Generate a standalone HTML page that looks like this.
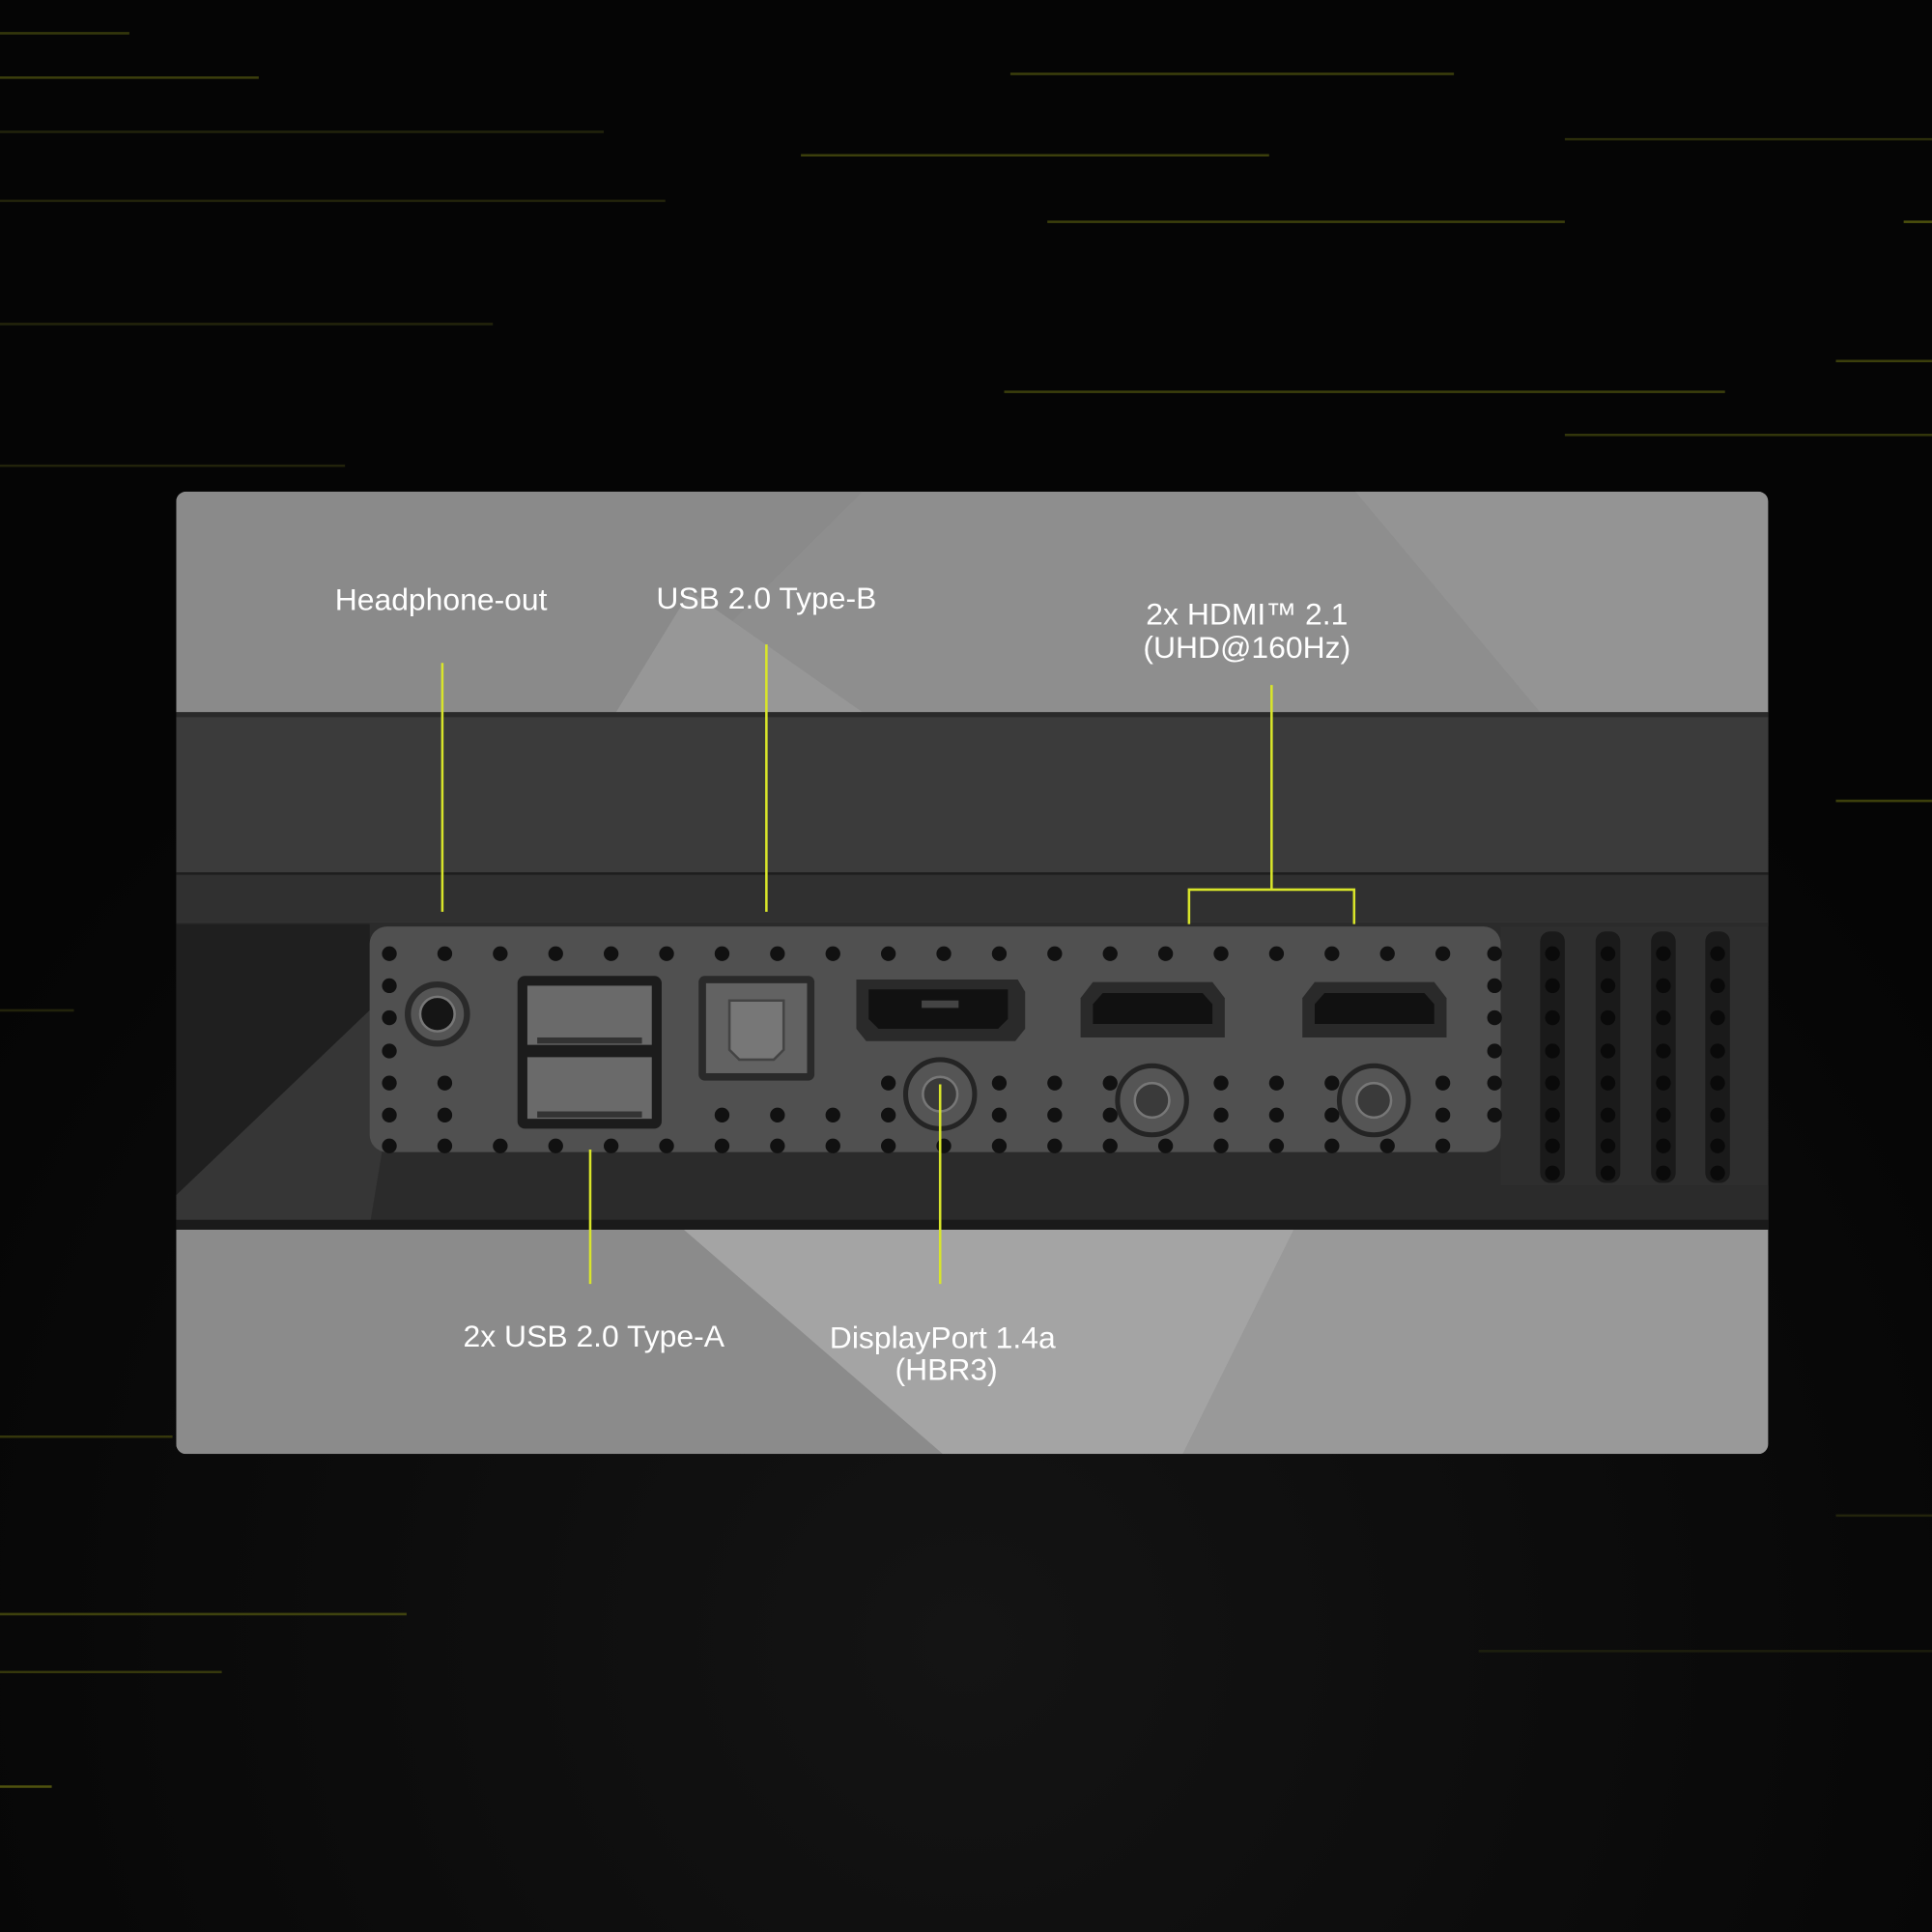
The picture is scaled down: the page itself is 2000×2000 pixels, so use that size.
<!DOCTYPE html>
<html><head><meta charset="utf-8"><style>
html,body{margin:0;padding:0;background:#000;width:2000px;height:2000px;overflow:hidden}
svg{display:block}
text{font-family:"Liberation Sans",sans-serif;fill:#fff;font-size:25px;text-anchor:middle}
</style></head><body>
<svg width="2000" height="2000" viewBox="0 0 1568 1568" xmlns="http://www.w3.org/2000/svg">
<defs>
<radialGradient id="bg" cx="0.5" cy="0.85" r="0.6"><stop offset="0" stop-color="#141414"/><stop offset="1" stop-color="#050505"/></radialGradient>
<clipPath id="pc"><rect x="143" y="399" width="1292" height="781" rx="8"/></clipPath>
</defs>
<rect width="1568" height="1568" fill="url(#bg)"/>
<g stroke-width="2" opacity="0.55">
<line x1="0" y1="27" x2="105" y2="27" stroke="#5a5e10"/>
<line x1="0" y1="63" x2="210" y2="63" stroke="#6a7012"/>
<line x1="820" y1="60" x2="1180" y2="60" stroke="#6a7012"/>
<line x1="0" y1="107" x2="490" y2="107" stroke="#3a3c10"/>
<line x1="650" y1="126" x2="1030" y2="126" stroke="#6a7012"/>
<line x1="1270" y1="113" x2="1568" y2="113" stroke="#4a4e10"/>
<line x1="0" y1="163" x2="540" y2="163" stroke="#3a3c10"/>
<line x1="850" y1="180" x2="1270" y2="180" stroke="#6a7012"/>
<line x1="1545" y1="180" x2="1568" y2="180" stroke="#8a9014"/>
<line x1="0" y1="263" x2="400" y2="263" stroke="#3a3c10"/>
<line x1="1490" y1="293" x2="1568" y2="293" stroke="#6a7012"/>
<line x1="815" y1="318" x2="1400" y2="318" stroke="#6a7012"/>
<line x1="1270" y1="353" x2="1568" y2="353" stroke="#5a5e10"/>
<line x1="0" y1="378" x2="280" y2="378" stroke="#3a3c10"/>
<line x1="1490" y1="650" x2="1568" y2="650" stroke="#6a7012"/>
<line x1="0" y1="820" x2="60" y2="820" stroke="#3a3c10"/>
<line x1="0" y1="1166" x2="140" y2="1166" stroke="#5a5e10"/>
<line x1="0" y1="1310" x2="330" y2="1310" stroke="#6a7012"/>
<line x1="0" y1="1357" x2="180" y2="1357" stroke="#5a5e10"/>
<line x1="0" y1="1450" x2="42" y2="1450" stroke="#8a9014"/>
<line x1="1200" y1="1340" x2="1568" y2="1340" stroke="#2a2c10"/>
<line x1="1490" y1="1230" x2="1568" y2="1230" stroke="#3a3c10"/>
</g>
<g clip-path="url(#pc)">
<rect x="143" y="399" width="1292" height="781" fill="#8e8e8e"/>
<polygon points="143,399 700,399 520,578 143,578" fill="#8a8a8a"/>
<polygon points="560,480 700,578 500,578" fill="#979797"/>
<polygon points="1100,399 1435,399 1435,578 1250,578" fill="#949494"/>
<polygon points="555,998 1050,998 960,1180 765,1180" fill="#a4a4a4"/>
<polygon points="1050,998 1435,998 1435,1180 960,1180" fill="#999"/>
<polygon points="143,998 555,998 765,1180 143,1180" fill="#8b8b8b"/>
<rect x="143" y="578" width="1292" height="132" fill="#3b3b3b"/>
<rect x="143" y="578" width="1292" height="4" fill="#2a2a2a"/>
<rect x="143" y="708" width="1292" height="40" fill="#303030"/>
<line x1="143" y1="709" x2="1435" y2="709" stroke="#1e1e1e" stroke-width="2"/>
<rect x="143" y="748" width="1292" height="250" fill="#2b2b2b"/>
<polygon points="143,750 300,750 300,820 143,970" fill="#1f1f1f"/>
<polygon points="143,970 300,820 310,935 300,995 143,995" fill="#363636"/>
<rect x="143" y="990" width="1292" height="8" fill="#1a1a1a"/>
<rect x="300" y="752" width="918" height="183" rx="14" fill="#505050"/>
<rect x="1218" y="752" width="217" height="210" fill="#2e2e2e"/>
<g fill="#1a1a1a">
<rect x="1250" y="756" width="20" height="204" rx="8"/>
<rect x="1295" y="756" width="20" height="204" rx="8"/>
<rect x="1340" y="756" width="20" height="204" rx="8"/>
<rect x="1384" y="756" width="20" height="204" rx="8"/>
</g>
<g fill="#111">
<circle cx="316" cy="774" r="6"/><circle cx="316" cy="800" r="6"/><circle cx="316" cy="826" r="6"/><circle cx="316" cy="853" r="6"/><circle cx="316" cy="879" r="6"/><circle cx="316" cy="905" r="6"/><circle cx="316" cy="930" r="6"/>
<circle cx="361" cy="774" r="6"/><circle cx="361" cy="879" r="6"/><circle cx="361" cy="905" r="6"/><circle cx="361" cy="930" r="6"/>
<circle cx="406" cy="774" r="6"/><circle cx="406" cy="930" r="6"/>
<circle cx="451" cy="774" r="6"/><circle cx="451" cy="930" r="6"/>
<circle cx="496" cy="774" r="6"/><circle cx="496" cy="930" r="6"/>
<circle cx="541" cy="774" r="6"/><circle cx="541" cy="930" r="6"/>
<circle cx="586" cy="774" r="6"/><circle cx="586" cy="905" r="6"/><circle cx="586" cy="930" r="6"/>
<circle cx="631" cy="774" r="6"/><circle cx="631" cy="905" r="6"/><circle cx="631" cy="930" r="6"/>
<circle cx="676" cy="774" r="6"/><circle cx="676" cy="905" r="6"/><circle cx="676" cy="930" r="6"/>
<circle cx="721" cy="774" r="6"/><circle cx="721" cy="879" r="6"/><circle cx="721" cy="905" r="6"/><circle cx="721" cy="930" r="6"/>
<circle cx="766" cy="774" r="6"/><circle cx="766" cy="930" r="6"/>
<circle cx="811" cy="774" r="6"/><circle cx="811" cy="879" r="6"/><circle cx="811" cy="905" r="6"/><circle cx="811" cy="930" r="6"/>
<circle cx="856" cy="774" r="6"/><circle cx="856" cy="879" r="6"/><circle cx="856" cy="905" r="6"/><circle cx="856" cy="930" r="6"/>
<circle cx="901" cy="774" r="6"/><circle cx="901" cy="879" r="6"/><circle cx="901" cy="905" r="6"/><circle cx="901" cy="930" r="6"/>
<circle cx="946" cy="774" r="6"/><circle cx="946" cy="930" r="6"/>
<circle cx="991" cy="774" r="6"/><circle cx="991" cy="879" r="6"/><circle cx="991" cy="905" r="6"/><circle cx="991" cy="930" r="6"/>
<circle cx="1036" cy="774" r="6"/><circle cx="1036" cy="879" r="6"/><circle cx="1036" cy="905" r="6"/><circle cx="1036" cy="930" r="6"/>
<circle cx="1081" cy="774" r="6"/><circle cx="1081" cy="879" r="6"/><circle cx="1081" cy="905" r="6"/><circle cx="1081" cy="930" r="6"/>
<circle cx="1126" cy="774" r="6"/><circle cx="1126" cy="930" r="6"/>
<circle cx="1171" cy="774" r="6"/><circle cx="1171" cy="879" r="6"/><circle cx="1171" cy="905" r="6"/><circle cx="1171" cy="930" r="6"/>
<circle cx="1213" cy="774" r="6"/><circle cx="1213" cy="800" r="6"/><circle cx="1213" cy="826" r="6"/><circle cx="1213" cy="853" r="6"/><circle cx="1213" cy="879" r="6"/><circle cx="1213" cy="905" r="6"/>
</g>
<g fill="#0a0a0a">
<circle cx="1260" cy="774" r="6"/><circle cx="1260" cy="800" r="6"/><circle cx="1260" cy="826" r="6"/><circle cx="1260" cy="853" r="6"/><circle cx="1260" cy="879" r="6"/><circle cx="1260" cy="905" r="6"/><circle cx="1260" cy="930" r="6"/><circle cx="1260" cy="952" r="6"/>
<circle cx="1305" cy="774" r="6"/><circle cx="1305" cy="800" r="6"/><circle cx="1305" cy="826" r="6"/><circle cx="1305" cy="853" r="6"/><circle cx="1305" cy="879" r="6"/><circle cx="1305" cy="905" r="6"/><circle cx="1305" cy="930" r="6"/><circle cx="1305" cy="952" r="6"/>
<circle cx="1350" cy="774" r="6"/><circle cx="1350" cy="800" r="6"/><circle cx="1350" cy="826" r="6"/><circle cx="1350" cy="853" r="6"/><circle cx="1350" cy="879" r="6"/><circle cx="1350" cy="905" r="6"/><circle cx="1350" cy="930" r="6"/><circle cx="1350" cy="952" r="6"/>
<circle cx="1394" cy="774" r="6"/><circle cx="1394" cy="800" r="6"/><circle cx="1394" cy="826" r="6"/><circle cx="1394" cy="853" r="6"/><circle cx="1394" cy="879" r="6"/><circle cx="1394" cy="905" r="6"/><circle cx="1394" cy="930" r="6"/><circle cx="1394" cy="952" r="6"/>
</g>
</g>
<circle cx="355" cy="823" r="24" fill="#555" stroke="#2a2a2a" stroke-width="5"/>
<circle cx="355" cy="823" r="14" fill="#151515" stroke="#777" stroke-width="2"/>
<rect x="420" y="792" width="117" height="124" rx="6" fill="#1c1c1c"/>
<rect x="428" y="800" width="101" height="48" fill="#6a6a6a"/>
<rect x="428" y="858" width="101" height="50" fill="#6a6a6a"/>
<rect x="436" y="842" width="85" height="5" fill="#333"/>
<rect x="436" y="902" width="85" height="5" fill="#333"/>
<rect x="567" y="792" width="94" height="85" rx="5" fill="#2a2a2a"/>
<rect x="573" y="798" width="82" height="73" fill="#626262"/>
<path d="M592,812 h44 v40 l-8,8 h-28 l-8,-8z" fill="#777" stroke="#444" stroke-width="2"/>
<path d="M695,795 h131 l6,10 v30 l-8,10 h-121 l-8,-10 v-30z" fill="#2a2a2a"/>
<path d="M705,803 h113 v24 l-8,8 h-97 l-8,-8z" fill="#111"/>
<rect x="748" y="812" width="30" height="6" fill="#444"/>
<path d="M877,810 l10,-13 h97 l10,13 v32 h-117z" fill="#2a2a2a"/>
<path d="M887,815 l8,-9 h81 l8,9 v16 h-97z" fill="#111"/>
<path d="M1057,810 l10,-13 h97 l10,13 v32 h-117z" fill="#2a2a2a"/>
<path d="M1067,815 l8,-9 h81 l8,9 v16 h-97z" fill="#111"/>
<circle cx="763" cy="888" r="28" fill="#555" stroke="#242424" stroke-width="4"/>
<circle cx="763" cy="888" r="14" fill="#3a3a3a" stroke="#777" stroke-width="2"/>
<circle cx="935" cy="893" r="28" fill="#555" stroke="#242424" stroke-width="4"/>
<circle cx="935" cy="893" r="14" fill="#3a3a3a" stroke="#777" stroke-width="2"/>
<circle cx="1115" cy="893" r="28" fill="#555" stroke="#242424" stroke-width="4"/>
<circle cx="1115" cy="893" r="14" fill="#3a3a3a" stroke="#777" stroke-width="2"/>
<g stroke="#d8e52a" stroke-width="2" fill="none">
<line x1="359" y1="538" x2="359" y2="740"/>
<line x1="622" y1="523" x2="622" y2="740"/>
<line x1="1032" y1="556" x2="1032" y2="722"/>
<polyline points="965,750 965,722 1099,722 1099,750"/>
<line x1="479" y1="933" x2="479" y2="1042"/>
<line x1="763" y1="880" x2="763" y2="1042"/>
</g>
<text x="358" y="495">Headphone-out</text>
<text x="622" y="494">USB 2.0 Type-B</text>
<text x="1012" y="507">2x HDMI™ 2.1</text>
<text x="1012" y="534">(UHD@160Hz)</text>
<text x="482" y="1093">2x USB 2.0 Type-A</text>
<text x="765" y="1094">DisplayPort 1.4a</text>
<text x="768" y="1120">(HBR3)</text>
</svg>
</body></html>
